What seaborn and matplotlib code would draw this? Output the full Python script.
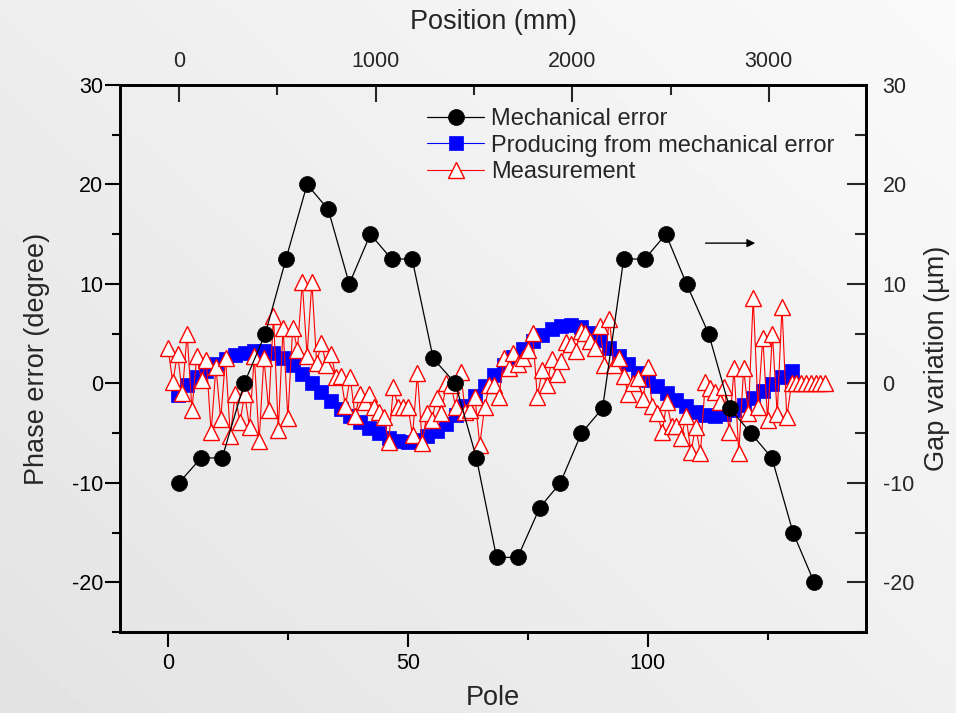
import numpy as np
import matplotlib
matplotlib.use("Agg")
import matplotlib.pyplot as plt
from matplotlib.ticker import MultipleLocator
import seaborn as sns

# Mechanical error sampled along the undulator (pole number, degree)
mech_pole = [2.3, 6.9, 11.3, 15.9, 20.3, 24.6, 29.0, 33.4, 37.8, 42.2, 46.6,
             50.9, 55.3, 59.9, 64.3, 68.5, 72.9, 77.5, 81.8, 86.2, 90.6, 95.0,
             99.4, 103.8, 108.1, 112.7, 117.1, 121.5, 125.9, 130.3, 134.7]
mech_err = [-10, -7.5, -7.5, 0, 5, 12.5, 20, 17.5, 10, 15, 12.5,
            12.5, 2.5, 0, -7.5, -17.5, -17.5, -12.5, -10, -5, -2.5, 12.5,
            12.5, 15, 10, 5, -2.5, -5, -7.5, -15, -20]

# Phase error produced from the mechanical error (every second pole)
prod_pole = list(range(2, 131, 2))
prod_err = [-1.2, -0.2, 0.6, 1.2, 1.9, 2.4, 2.9, 3.1, 3.3, 3.3,
            3.1, 2.6, 1.8, 0.9, 0.0, -0.9, -1.8, -2.6, -3.3, -3.9,
            -4.5, -5.0, -5.5, -5.8, -5.9, -5.7, -5.3, -4.8, -4.1, -3.2,
            -2.3, -1.3, -0.3, 0.8, 1.8, 2.7, 3.5, 4.3, 4.9, 5.5,
            5.8, 5.9, 5.7, 5.1, 4.4, 3.6, 2.8, 1.9, 1.0, 0.3,
            -0.3, -1.0, -1.7, -2.3, -2.9, -3.2, -3.3, -3.1, -2.7, -2.2,
            -1.5, -0.8, -0.1, 0.6, 1.2]

# Measured phase error, one value per pole starting at pole 0
meas_err = [3.6, 0.1, 3.0, -1.0, 5.0, -2.7, 2.8, 0.3, 2.3, -4.9,
            1.6, -3.6, 2.6, -5.3, -1.1, -3.9, -1.1, -4.4, 2.8, -5.8,
            2.5, -2.7, 6.8, -4.7, 5.6, -3.5, 5.6, 3.4, 10.2, 2.8,
            10.2, 2.0, 4.1, 1.8, 3.0, 0.6, 0.7, -2.3, 0.6, -3.3,
            -1.1, -1.9, -1.1, -2.4, -2.9, -3.4, -5.9, -0.4, -2.4, -2.4,
            -2.4, -5.2, 1.0, -6.0, -3.0, -3.7, -1.5, -3.0, 0.0, -0.2,
            -2.4, 1.1, -2.9, -2.7, -1.4, -6.2, -2.4, -0.2, -0.2, -1.4,
            2.6, 1.5, 3.1, 1.9, 2.6, 3.4, 5.1, -1.4, 1.3, -0.2,
            2.4, 0.9, 2.2, 4.2, 4.0, 3.3, 5.3, 5.1, 4.3, 3.6,
            5.8, 1.8, 6.5, 1.8, 2.5, 0.7, -1.1, 0.0, 0.5, -1.6,
            1.6, -2.3, -3.0, -4.9, -1.9, -4.3, -4.3, -5.5, -3.3, -6.9,
            -4.4, -7.0, 0.1, -0.5, -0.9, -1.9, -0.4, -4.9, 1.5, -7.0,
            1.5, -3.0, 8.6, -2.4, 4.6, -3.7, 5.0, -3.1, 7.7, -3.4,
            0, 0, 0, 0, 0, 0, 0, 0]
meas_pole = list(range(len(meas_err)))

labels = ["Mechanical error", "Producing from mechanical error", "Measurement"]

sns.set_style("ticks")
plt.rcParams["font.family"] = ["Liberation Sans", "DejaVu Sans"]
plt.rcParams["axes.unicode_minus"] = False

fig = plt.figure(figsize=(9.56, 7.13), dpi=100)

# soft grey backdrop, lighter towards the upper right
bg = fig.add_axes([0, 0, 1, 1], zorder=-10)
gy, gx = np.mgrid[0:1:200j, 0:1:200j]
shade = 0.89 + 0.09 * (0.55 * gx + 0.45 * gy)
bg.imshow(shade, cmap="gray", vmin=0, vmax=1, extent=[0, 1, 0, 1],
          origin="lower", aspect="auto", interpolation="bilinear")
bg.axis("off")

ax = fig.add_axes([0.1255, 0.1136, 0.7803, 0.7672])
ax.set_facecolor("none")

sns.lineplot(x=prod_pole, y=prod_err, ax=ax, color="#0000ff", linewidth=0.8,
             marker="s", markersize=9.5, markerfacecolor="#0000ff",
             markeredgecolor="#0000ff", markeredgewidth=0.5,
             label=labels[1], sort=False, zorder=2)
sns.lineplot(x=meas_pole, y=meas_err, ax=ax, color="red", linewidth=0.8,
             marker="^", markersize=11, markerfacecolor="white",
             markeredgecolor="red", markeredgewidth=1.0,
             label=labels[2], sort=False, zorder=3)
sns.lineplot(x=mech_pole, y=mech_err, ax=ax, color="black", linewidth=0.9,
             marker="o", markersize=11.5, markerfacecolor="black",
             markeredgecolor="black", markeredgewidth=0.5,
             label=labels[0], sort=False, zorder=4)

ax.annotate("", xy=(123.0, 14.1), xytext=(111.5, 14.1),
            arrowprops=dict(arrowstyle="-|>", color="black", lw=1.0,
                            mutation_scale=12))

handles, hl = ax.get_legend_handles_labels()
order = [hl.index(l) for l in labels]
ax.legend([handles[i] for i in order], labels, loc="upper left",
          bbox_to_anchor=(0.412, 0.958), frameon=False, fontsize=17,
          handlelength=2.4, handletextpad=0.3, labelspacing=0.2,
          borderpad=0, borderaxespad=0)

xlim = (-10, 145.5)
ax.set_xlim(*xlim)
ax.set_ylim(-25, 30)
ax.xaxis.set_major_locator(MultipleLocator(50))
ax.xaxis.set_minor_locator(MultipleLocator(25))
ax.yaxis.set_major_locator(MultipleLocator(10))
ax.yaxis.set_minor_locator(MultipleLocator(5))
ax.tick_params(axis="both", which="both", direction="out", top=False,
               right=False, width=1.5, labelsize=15.5, colors="black")
ax.tick_params(axis="both", which="major", length=11)
ax.tick_params(axis="both", which="minor", length=6)
ax.tick_params(axis="x", which="major", pad=4)
ax.tick_params(axis="y", which="major", pad=1)
ax.set_xlabel("Pole", fontsize=19.5, labelpad=8)
ax.set_ylabel("Phase error (degree)", fontsize=19.5, labelpad=16)
for s in ax.spines.values():
    s.set_linewidth(1.8)
    s.set_color("black")

# position along the device on the top axis
mm_per_pole = 24.4
top = ax.twiny()
top.set_xlim((xlim[0] - 2.3) * mm_per_pole, (xlim[1] - 2.3) * mm_per_pole)
top.xaxis.set_major_locator(MultipleLocator(1000))
top.xaxis.set_minor_locator(MultipleLocator(500))
top.tick_params(axis="x", which="both", direction="in", width=1.5,
                labelsize=15.5, pad=9)
top.tick_params(axis="x", which="major", length=12)
top.tick_params(axis="x", which="minor", length=7)
top.set_xlabel("Position (mm)", fontsize=19.5, labelpad=16)

# gap variation on the right axis
right = ax.twinx()
right.set_ylim(-25, 30)
right.yaxis.set_major_locator(MultipleLocator(10))
right.yaxis.set_minor_locator(MultipleLocator(5))
right.tick_params(axis="y", which="both", direction="in", width=1.5,
                  labelsize=15.5, pad=12)
right.tick_params(axis="y", which="major", length=14)
right.tick_params(axis="y", which="minor", length=8)
right.set_ylabel("Gap variation (\u00b5m)", fontsize=19.5, labelpad=7)

for a in (top, right):
    a.set_facecolor("none")
    for s in a.spines.values():
        s.set_linewidth(1.8)
        s.set_color("black")

fig.savefig("out.png", dpi=100)
